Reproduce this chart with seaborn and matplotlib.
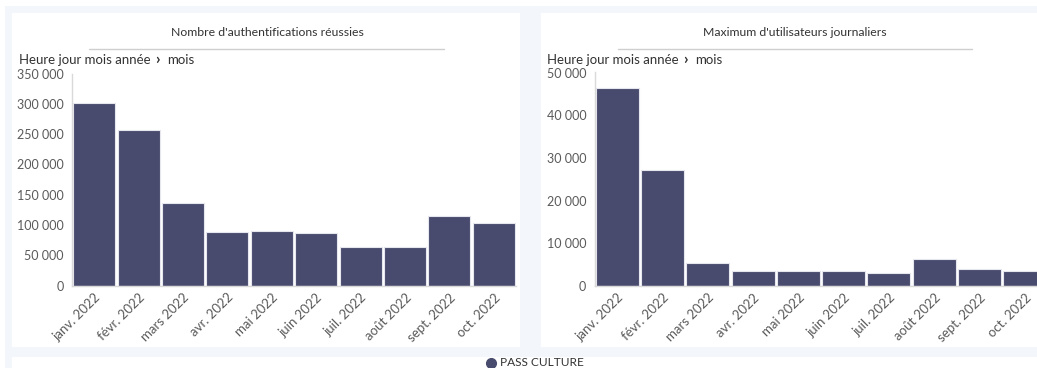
import matplotlib
matplotlib.use("Agg")
import matplotlib.pyplot as plt
from matplotlib.patches import Rectangle
from matplotlib.lines import Line2D
from matplotlib.ticker import FuncFormatter
import seaborn as sns
import pandas as pd

# données
mois = ["janv. 2022", "févr. 2022", "mars 2022", "avr. 2022", "mai 2022",
        "juin 2022", "juil. 2022", "août 2022", "sept. 2022", "oct. 2022"]
authentifications = [302000, 257000, 137000, 89000, 90500,
                     86500, 64500, 63500, 115500, 103000]
utilisateursMax = [46300, 27100, 5400, 3450, 3450,
                   3500, 3050, 6300, 4070, 3450]
titres = ["Nombre d'authentifications réussies", "Maximum d'utilisateurs journaliers"]
yticks_auth = [0, 50000, 100000, 150000, 200000, 250000, 300000, 350000]
yticks_users = [0, 10000, 20000, 30000, 40000, 50000]
legende = "PASS CULTURE"

sns.set_style("white")
plt.rcParams['font.family'] = ['Lato', 'DejaVu Sans']

W, H = 1037, 368
BAR = "#494b6e"
FOND = "#f3f7fb"
TXT = "#333333"
TICK = "#5a5a5a"

fig = plt.figure(figsize=(W / 100, H / 100), dpi=100)
fig.patch.set_facecolor("white")
renderer = fig.canvas.get_renderer()


def rect(x0, y0, x1, y1, color):
    fig.add_artist(Rectangle((x0 / W, 1 - y1 / H), (x1 - x0) / W, (y1 - y0) / H,
                             transform=fig.transFigure, facecolor=color,
                             edgecolor="none", zorder=-10))


def axes_px(x0, y0, x1, y1):
    return fig.add_axes([x0 / W, 1 - y1 / H, (x1 - x0) / W, (y1 - y0) / H])


# fonds des panneaux
rect(5, 6, 1040, 357, FOND)
rect(5, 357, 12, 368, FOND)
rect(12, 13, 520, 347, "white")
rect(541, 13, 1040, 347, "white")
rect(12, 357, 1040, 368, "white")

fmt = FuncFormatter(lambda v, p: f"{int(v):,}".replace(",", " "))


def fil_ariane(xh):
    y = 1 - 60 / H
    t = fig.text(xh / W, y, "Heure jour mois année", ha="left", va="center",
                 fontsize=9.5, color=TXT)
    x1 = t.get_window_extent(renderer).x1
    c = fig.text((x1 + 5) / W, y, "›", ha="left", va="center",
                 fontsize=11.5, fontweight="bold", color=TXT)
    x2 = c.get_window_extent(renderer).x1
    fig.text((x2 + 7) / W, y, "mois", ha="left", va="center",
             fontsize=9.5, color=TXT)


def tracer(valeurs, box, ymax, yticks, titre, cx, ligne, xh):
    ax = axes_px(*box)
    df = pd.DataFrame({"mois": mois, "valeur": valeurs})
    sns.barplot(data=df, x="mois", y="valeur", color=BAR, saturation=1,
                width=0.95, edgecolor="#e6e6ee", linewidth=0.8, ax=ax)
    ax.set_xlim(-0.5, 9.5)
    ax.set_ylim(0, ymax)
    ax.set_yticks(yticks)
    ax.yaxis.set_major_formatter(fmt)
    ax.set_xlabel("")
    ax.set_ylabel("")
    ax.set_facecolor("none")
    for s in ["top", "right"]:
        ax.spines[s].set_visible(False)
    for s in ["left", "bottom"]:
        ax.spines[s].set_color("#d9d9d9")
        ax.spines[s].set_linewidth(1)
    ax.tick_params(axis="y", length=4, color="#d9d9d9", labelsize=9,
                   labelcolor=TICK, pad=2)
    ax.tick_params(axis="x", length=0, labelsize=9.5, labelcolor=TICK, pad=4)
    plt.setp(ax.get_xticklabels(), rotation=45, ha="right",
             rotation_mode="anchor")
    fig.text(cx / W, 1 - 32 / H, titre, ha="center", va="center",
             fontsize=8.8, color=TXT)
    fig.add_artist(Line2D([ligne[0] / W, ligne[1] / W], [1 - 49 / H] * 2,
                          transform=fig.transFigure, color="#cfcfcf", lw=1))
    fil_ariane(xh)
    return ax


tracer(authentifications, (72, 73.6, 516, 285.7), 350000, yticks_auth,
       titres[0], 267, (89, 444), 19)
tracer(utilisateursMax, (594.5, 72.5, 1047.5, 286), 50000, yticks_users,
       titres[1], 795, (618, 972), 547)

# légende
fig.add_artist(Line2D([491 / W], [1 - 362.5 / H], transform=fig.transFigure,
                      marker="o", markersize=7, color=BAR, linestyle="none"))
fig.text(500 / W, 1 - 362.5 / H, legende, ha="left", va="center",
         fontsize=8.6, color=TXT)

fig.savefig("out.png", dpi=100)
